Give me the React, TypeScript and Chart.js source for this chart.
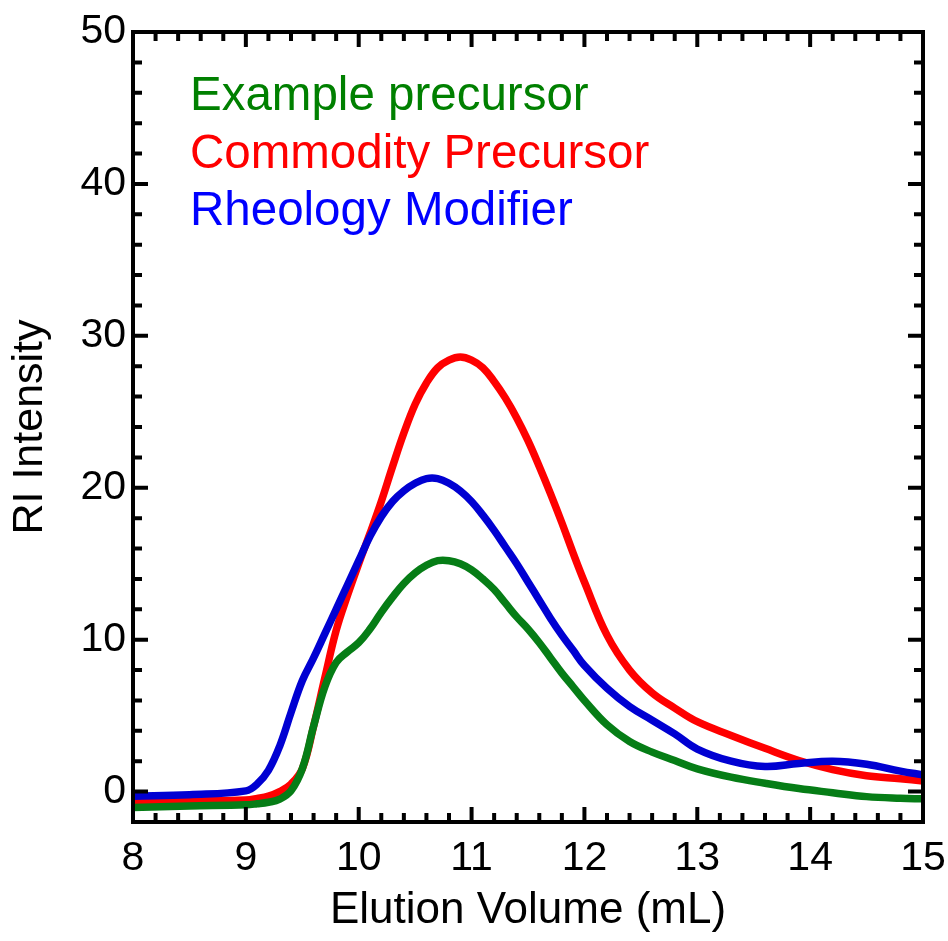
import React, { useEffect, useRef } from "react";
import { Chart, registerables } from "chart.js";

Chart.register(...registerables);

const xValues = [
  8.0, 8.5, 9.0, 9.1, 9.2, 9.3, 9.4, 9.5, 9.6, 9.7, 9.8, 9.9, 10.0, 10.1, 10.2, 10.3, 10.4, 10.5,
  10.6, 10.7, 10.8, 10.9, 11.0, 11.1, 11.2, 11.3, 11.4, 11.5, 11.6, 11.7, 11.8, 11.9, 12.0, 12.2,
  12.4, 12.6, 12.8, 13.0, 13.3, 13.6, 13.9, 14.2, 14.5, 14.8, 15.0,
];

const exampleValues = [
  -1.05, -0.95, -0.87, -0.8, -0.7, -0.5, 0.05, 1.5, 4.3, 6.9, 8.5, 9.2, 9.8, 10.7, 11.8, 12.8, 13.7, 14.4,
  14.9, 15.2, 15.2, 15.0, 14.6, 14.0, 13.3, 12.4, 11.5, 10.7, 9.8, 8.8, 7.8, 6.9, 6.0, 4.4,
  3.3, 2.6, 2.05, 1.5, 0.95, 0.55, 0.2, -0.07, -0.33, -0.44, -0.47,
];

const commodityValues = [
  -0.65, -0.6, -0.55, -0.45, -0.3, 0.0, 0.5, 1.5, 4.3, 7.5, 10.6, 12.9, 15.0, 17.0, 19.1, 21.4, 23.6, 25.5,
  26.9, 27.9, 28.4, 28.6, 28.4, 27.9, 27.0, 25.9, 24.6, 23.1, 21.4, 19.6, 17.7, 15.7, 13.8, 10.3,
  8.0, 6.5, 5.5, 4.6, 3.7, 2.85, 2.05, 1.45, 1.05, 0.85, 0.7,
];

const modifierValues = [
  -0.3, -0.2, 0.05, 0.5, 1.4, 3.0, 5.2, 7.3, 8.8, 10.4, 12.0, 13.6, 15.2, 16.8, 18.1, 19.1, 19.8, 20.3,
  20.6, 20.6, 20.3, 19.8, 19.1, 18.2, 17.2, 16.1, 15.0, 13.8, 12.6, 11.4, 10.3, 9.3, 8.3, 6.8,
  5.6, 4.7, 3.8, 2.8, 2.0, 1.65, 1.85, 2.0, 1.8, 1.35, 1.1,
];

const seriesLabels = ["Example precursor", "Commodity Precursor", "Rheology Modifier"];
const xTickLabels = [8, 9, 10, 11, 12, 13, 14, 15];
const yTickLabels = [0, 10, 20, 30, 40, 50];

const FONT = "'Liberation Sans', Arial, sans-serif";

const framePlugin = {
  id: "frameTicks",
  afterDatasetsDraw(chart: any) {
    const { ctx, chartArea, scales } = chart;
    const { left, right, top, bottom } = chartArea;
    const xs = scales.x;
    const ys = scales.y;
    ctx.save();
    ctx.strokeStyle = "#000";
    ctx.lineWidth = 4;
    ctx.lineCap = "butt";
    ctx.beginPath();
    for (let i = 0; i <= 35; i++) {
      const v = 8 + i * 0.2;
      const px = xs.getPixelForValue(v);
      const len = i % 5 === 0 ? 15 : 9;
      ctx.moveTo(px, bottom);
      ctx.lineTo(px, bottom - len);
      ctx.moveTo(px, top);
      ctx.lineTo(px, top + len);
    }
    for (let i = 0; i <= 25; i++) {
      const v = i * 2;
      const py = ys.getPixelForValue(v);
      const len = v % 10 === 0 ? 15 : 9;
      ctx.moveTo(left, py);
      ctx.lineTo(left + len, py);
      ctx.moveTo(right, py);
      ctx.lineTo(right - len, py);
    }
    ctx.stroke();
    ctx.strokeRect(left, top, right - left, bottom - top);
    ctx.restore();
  },
};

const legendPlugin = {
  id: "textLegend",
  afterDraw(chart: any) {
    const { ctx } = chart;
    const colors = ["#008000", "#ff0000", "#0000ff"];
    ctx.save();
    ctx.font = `47.5px ${FONT}`;
    ctx.textAlign = "left";
    ctx.textBaseline = "alphabetic";
    seriesLabels.forEach((t, i) => {
      ctx.fillStyle = colors[i];
      ctx.fillText(t, 190, 110 + i * 57.5);
    });
    ctx.restore();
  },
};

export default function App() {
  const ref = useRef<HTMLCanvasElement | null>(null);
  useEffect(() => {
    if (!ref.current) return;
    const mk = (vals: number[]) => xValues.map((x, i) => ({ x, y: vals[i] }));
    const lineOpts = { borderWidth: 7.5, pointRadius: 0, tension: 0.4 };
    const chart = new Chart(ref.current, {
      type: "line",
      data: {
        datasets: [
          { label: seriesLabels[2], data: mk(modifierValues), borderColor: "#0000d2", ...lineOpts },
          { label: seriesLabels[0], data: mk(exampleValues), borderColor: "#067d16", ...lineOpts },
          { label: seriesLabels[1], data: mk(commodityValues), borderColor: "#ff0000", ...lineOpts },
        ],
      },
      options: {
        responsive: false,
        animation: false,
        layout: { padding: { top: 32, right: 25, left: 0, bottom: 0 } },
        plugins: { legend: { display: false }, tooltip: { enabled: false } },
        scales: {
          x: {
            type: "linear",
            min: 8,
            max: 15,
            grid: { display: false, drawTicks: false },
            border: { display: false },
            afterBuildTicks: (s: any) => {
              s.ticks = xTickLabels.map((v) => ({ value: v }));
            },
            afterFit: (s: any) => {
              s.height = 119;
              s.paddingLeft = 0;
              s.paddingRight = 0;
            },
            ticks: {
              color: "#000",
              padding: 12,
              maxRotation: 0,
              font: { family: FONT, size: 41 },
              callback: (v: any) => String(v),
            },
            title: {
              display: true,
              text: "Elution Volume (mL)",
              color: "#000",
              font: { family: FONT, size: 44, lineHeight: 1 },
              padding: { top: 0, bottom: 8 },
            },
          },
          y: {
            type: "linear",
            min: -2,
            max: 50,
            grid: { display: false, drawTicks: false },
            border: { display: false },
            afterBuildTicks: (s: any) => {
              s.ticks = yTickLabels.map((v) => ({ value: v }));
            },
            afterFit: (s: any) => {
              s.width = 133;
              s.paddingTop = 0;
              s.paddingBottom = 0;
            },
            ticks: {
              color: "#000",
              padding: 7,
              font: { family: FONT, size: 41 },
              callback: (v: any) => String(v),
            },
            title: {
              display: true,
              text: "RI Intensity",
              color: "#000",
              font: { family: FONT, size: 43, lineHeight: 1 },
              padding: { top: 9, bottom: 0 },
            },
          },
        },
      },
      plugins: [framePlugin, legendPlugin],
    });
    return () => chart.destroy();
  }, []);
  return (
    <div style={{ position: "absolute", left: 0, top: 0, width: 948, height: 941, background: "#fff" }}>
      <canvas ref={ref} width={948} height={941} />
    </div>
  );
}
